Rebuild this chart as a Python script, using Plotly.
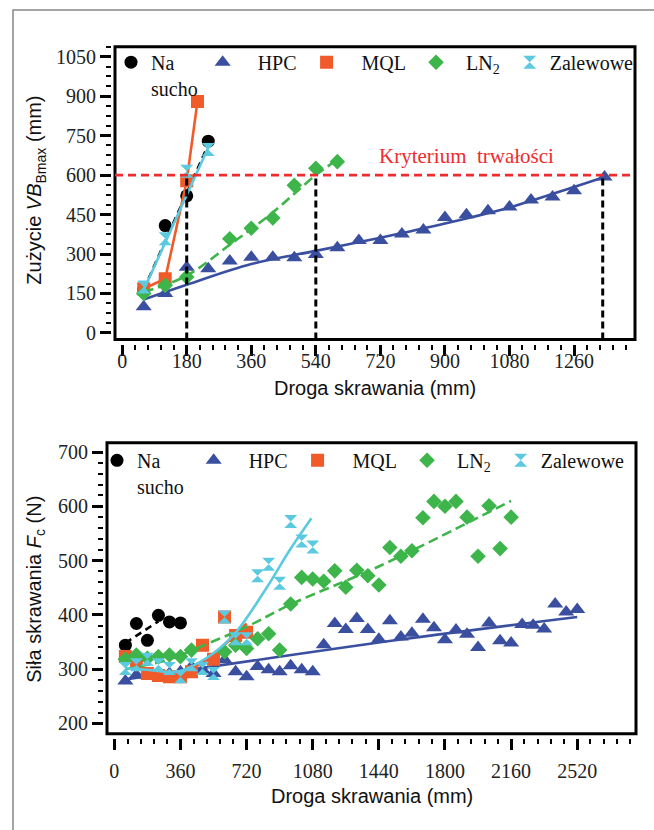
import plotly.graph_objects as go

W, H = 654, 830

# ---------------- top chart: tool wear VBBmax (mm) vs cutting length (mm) ----------------
wear_dry_x = [60, 120, 180, 240]
wear_dry_y = [165, 408, 521, 729]
wear_dry_fit_x = [60, 240]
wear_dry_fit_y = [165, 715]

wear_hpc_x = [60, 120, 180, 240, 300, 360, 420, 480, 540, 600, 660, 720, 780, 840, 900,
              960, 1020, 1080, 1140, 1200, 1260, 1345]
wear_hpc_y = [100, 150, 250, 244, 273, 288, 288, 286, 298, 324, 351, 351, 376, 391, 439,
              449, 464, 479, 505, 517, 540, 593]
wear_hpc_fit_x = [60, 180, 360, 540, 720, 900, 1080, 1260, 1345]
wear_hpc_fit_y = [127, 183, 262, 312, 362, 416, 477, 555, 593]

wear_mql_x = [60, 120, 180, 210]
wear_mql_y = [168, 206, 578, 880]

wear_ln2_x = [60, 120, 180, 300, 360, 420, 480, 540, 600]
wear_ln2_y = [150, 181, 213, 358, 398, 437, 561, 626, 651]
wear_ln2_fit_x = [60, 180, 300, 420, 540, 600]
wear_ln2_fit_y = [155, 218, 335, 458, 600, 658]

wear_flood_x = [60, 120, 180, 240]
wear_flood_y = [175, 358, 615, 697]
wear_flood_fit_x = [60, 240]
wear_flood_fit_y = [163, 705]

wear_criterion = 600
tool_life_x = [180, 540, 1340]

wear_x_ticks = [0, 180, 360, 540, 720, 900, 1080, 1260]
wear_y_ticks = [0, 150, 300, 450, 600, 750, 900, 1050]

# ---------------- bottom chart: cutting force Fc (N) vs cutting length (mm) ----------------
force_dry_x = [60, 120, 180, 240, 300, 360]
force_dry_y = [344, 384, 353, 399, 387, 385]
force_dry_fit_x = [60, 240]
force_dry_fit_y = [348, 388]

force_hpc_x = [60, 120, 180, 240, 300, 360, 420, 480, 540, 600, 660, 720, 780, 840, 900,
               960, 1020, 1080, 1140, 1200, 1260, 1320, 1380, 1440, 1500, 1560, 1620, 1680,
               1740, 1800, 1860, 1920, 1980, 2040, 2100, 2160, 2220, 2280, 2340, 2400, 2460, 2520]
force_hpc_y = [278, 289, 289, 292, 292, 295, 305, 299, 292, 317, 295, 286, 305, 299, 295,
               306, 299, 295, 345, 384, 373, 393, 373, 355, 389, 359, 366, 392,
               376, 354, 372, 364, 340, 385, 352, 348, 382, 381, 374, 420, 405, 410]
force_hpc_fit_x = [60, 1550, 2520]
force_hpc_fit_y = [281, 354, 396]

force_mql_x = [60, 120, 180, 240, 300, 360, 420, 480, 540, 600, 660, 720]
force_mql_y = [323, 311, 292, 288, 286, 286, 295, 344, 318, 396, 362, 368]
force_mql_fit_x = [60, 180, 330, 480, 600, 720]
force_mql_fit_y = [320, 298, 290, 312, 345, 384]

force_ln2_x = [60, 120, 180, 240, 300, 360, 420, 600, 660, 720, 780, 840, 900, 960, 1020,
               1080, 1140, 1200, 1260, 1320, 1380, 1440, 1500, 1560, 1620, 1680, 1740, 1800,
               1860, 1920, 1980, 2040, 2100, 2160]
force_ln2_y = [318, 326, 320, 323, 326, 323, 335, 332, 344, 338, 356, 365, 335, 420, 469,
               466, 462, 481, 451, 482, 472, 455, 524, 508, 518, 579, 609, 600,
               609, 580, 508, 601, 522, 580]
force_ln2_fit_x = [60, 300, 466, 720, 965, 1445, 2160]
force_ln2_fit_y = [300, 318, 341, 378, 420, 490, 610]

force_flood_x = [60, 120, 180, 240, 300, 360, 420, 480, 540, 600, 660, 720, 780, 840, 900,
                 960, 1020, 1080]
force_flood_y = [301, 308, 318, 308, 301, 286, 308, 301, 292, 396, 356, 356, 472, 493, 458,
                 572, 536, 525]
force_flood_fit_x = [60, 200, 339, 500, 647, 829, 956, 1073]
force_flood_fit_y = [302, 298, 295, 320, 362, 450, 520, 578]

force_x_ticks = [0, 360, 720, 1080, 1440, 1800, 2160, 2520]
force_y_ticks = [200, 300, 400, 500, 600, 700]

# ---------------- styles ----------------
C_DRY = "#000000"
C_HPC = "#3A4FA0"
C_MQL = "#F15A29"
C_LN2 = "#3DB54A"
C_FLOOD = "#5BCAE0"
C_RED = "#EE2B2F"

NB = "\u00a0"
names_top = {
    "dry": "Na<br>sucho",
    "hpc": NB * 3 + "HPC" + NB,
    "mql": NB * 3 + "MQL" + NB,
    "ln2": NB * 2 + "LN<sub>2</sub>" + NB,
    "flood": "Zalewowe",
}
names_bot = {
    "dry": "Na<br>sucho" + NB,
    "hpc": NB * 3 + "HPC" + NB,
    "mql": NB * 3 + "MQL" + NB,
    "ln2": NB * 2 + "LN<sub>2</sub>" + NB,
    "flood": "Zalewowe",
}

fig = go.Figure()


def add_series(xs, ys, fx, fy, color, symbol, name, dash, xa, ya, leg, size=13, shape="spline"):
    fig.add_trace(go.Scatter(x=xs, y=ys, mode="markers", name=name, xaxis=xa, yaxis=ya,
                             legend=leg, marker=dict(color=color, symbol=symbol, size=size,
                                                     line=dict(width=0))))
    if fx is not None:
        fig.add_trace(go.Scatter(x=fx, y=fy, mode="lines", showlegend=False, xaxis=xa, yaxis=ya,
                                 line=dict(color=color, width=2.6, dash=dash, shape=shape)))


# top chart
add_series(wear_dry_x, wear_dry_y, wear_dry_fit_x, wear_dry_fit_y, C_DRY, "circle",
           names_top["dry"], "7px,5px", "x", "y", "legend")
add_series(wear_hpc_x, wear_hpc_y, wear_hpc_fit_x, wear_hpc_fit_y, C_HPC, "triangle-up",
           names_top["hpc"], "solid", "x", "y", "legend", size=14)
add_series(wear_mql_x, wear_mql_y, wear_mql_x, wear_mql_y, C_MQL, "square",
           names_top["mql"], "solid", "x", "y", "legend", shape="linear")
add_series(wear_ln2_x, wear_ln2_y, wear_ln2_fit_x, wear_ln2_fit_y, C_LN2, "diamond",
           names_top["ln2"], "10px,5px", "x", "y", "legend", size=12)
add_series(wear_flood_x, wear_flood_y, wear_flood_fit_x, wear_flood_fit_y, C_FLOOD, "hourglass",
           names_top["flood"], "solid", "x", "y", "legend")

wear_ymin = -25
for tx in tool_life_x:
    fig.add_trace(go.Scatter(x=[tx, tx], y=[wear_ymin, wear_criterion], mode="lines",
                             showlegend=False, xaxis="x", yaxis="y",
                             line=dict(color="black", width=3, dash="7px,4px")))

# bottom chart
add_series(force_dry_x, force_dry_y, force_dry_fit_x, force_dry_fit_y, C_DRY, "circle",
           names_bot["dry"], "7px,5px", "x2", "y2", "legend2")
add_series(force_hpc_x, force_hpc_y, force_hpc_fit_x, force_hpc_fit_y, C_HPC, "triangle-up",
           names_bot["hpc"], "solid", "x2", "y2", "legend2", size=14)
add_series(force_mql_x, force_mql_y, force_mql_fit_x, force_mql_fit_y, C_MQL, "square",
           names_bot["mql"], "solid", "x2", "y2", "legend2")
add_series(force_ln2_x, force_ln2_y, force_ln2_fit_x, force_ln2_fit_y, C_LN2, "diamond",
           names_bot["ln2"], "10px,5px", "x2", "y2", "legend2", size=12)
add_series(force_flood_x, force_flood_y, force_flood_fit_x, force_flood_fit_y, C_FLOOD, "hourglass",
           names_bot["flood"], "solid", "x2", "y2", "legend2")


def px_x(p):
    return p / W


def px_y(p):
    return 1 - p / H


tickfont = dict(family="Liberation Serif", size=20, color="#222")


def axis(domain, rng, ticks, minor_dt, pos, side, standoff=0):
    return dict(domain=domain, range=rng, tickmode="array", tickvals=ticks,
                showgrid=False, zeroline=False, showline=False, ticks="outside",
                ticklen=11, tickwidth=2.6, tickcolor="black", tickfont=tickfont,
                anchor="free", position=pos, side=side, ticklabelstandoff=standoff,
                minor=dict(dtick=minor_dt, tick0=0, ticks="outside", ticklen=5,
                           tickwidth=2.4, tickcolor="black", showgrid=False))


top_dom_y = [px_y(340), px_y(45)]
top_dom_x = [px_x(115), px_x(635)]
bot_dom_y = [px_y(737), px_y(444)]
bot_dom_x = [px_x(107), px_x(636)]

legend_font = dict(family="Liberation Serif", size=20, color="#111")
fig.update_layout(
    width=W, height=H, margin=dict(l=0, r=0, t=0, b=0),
    paper_bgcolor="white", plot_bgcolor="white",
    xaxis=axis(top_dom_x, [-20, 1430], wear_x_ticks, 36, px_y(344), "bottom", -12),
    yaxis=axis(top_dom_y, [wear_ymin, 1088], wear_y_ticks, 37.5, px_x(111), "left"),
    xaxis2=axis(bot_dom_x, [-40, 2840], force_x_ticks, 72, px_y(741), "bottom", 4),
    yaxis2=axis(bot_dom_y, [181, 717], force_y_ticks, 20, px_x(103), "left"),
    legend=dict(orientation="h", x=px_x(111), y=px_y(41), xanchor="left", yanchor="top",
                font=legend_font, bgcolor="rgba(0,0,0,0)", valign="top",
                itemwidth=30, tracegroupgap=0),
    legend2=dict(orientation="h", x=px_x(97), y=px_y(442), xanchor="left", yanchor="top",
                 font=legend_font, bgcolor="rgba(0,0,0,0)", valign="top",
                 itemwidth=30, tracegroupgap=0),
    showlegend=True,
)

# plot frames
for xr, yr in (("x domain", "y domain"), ("x2 domain", "y2 domain")):
    fig.add_shape(type="rect", xref=xr, yref=yr, x0=0, x1=1, y0=0, y1=1,
                  line=dict(color="black", width=3), layer="above")

# wear criterion line
fig.add_shape(type="line", xref="x domain", yref="y", x0=0, x1=1, y0=wear_criterion,
              y1=wear_criterion, line=dict(color=C_RED, width=2.6, dash="8px,5px"))

# outer frame
fig.add_shape(type="rect", xref="paper", yref="paper", x0=px_x(13), x1=1.05, y0=-0.05,
              y1=px_y(8), line=dict(color="#888", width=1.5))

fig.add_annotation(x=960, y=672, xref="x", yref="y", text="Kryterium" + NB * 2 + "trwałości",
                   showarrow=False, xanchor="center", yanchor="middle",
                   font=dict(family="Liberation Serif", size=21, color=C_RED))

title_font = dict(family="Liberation Sans", size=20, color="#111")
fig.add_annotation(x=(px_x(115) + px_x(635)) / 2, y=px_y(389), xref="paper", yref="paper",
                   xanchor="center", yanchor="middle",
                   text="Droga skrawania (mm)", showarrow=False, font=title_font)
fig.add_annotation(x=(px_x(107) + px_x(636)) / 2, y=px_y(800), xref="paper", yref="paper",
                   xanchor="center", yanchor="middle",
                   text="Droga skrawania (mm)", showarrow=False, font=title_font)
fig.add_annotation(x=px_x(36), y=px_y(190), xref="paper", yref="paper", textangle=-90,
                   xanchor="center", yanchor="middle",
                   text="Zużycie <i>VB</i><sub>Bmax</sub> (mm)", showarrow=False, font=title_font)
fig.add_annotation(x=px_x(36), y=px_y(592), xref="paper", yref="paper", textangle=-90,
                   xanchor="center", yanchor="middle",
                   text="Siła skrawania <i>F</i><sub>c</sub> (N)", showarrow=False, font=title_font)

fig.write_html("out.html")
